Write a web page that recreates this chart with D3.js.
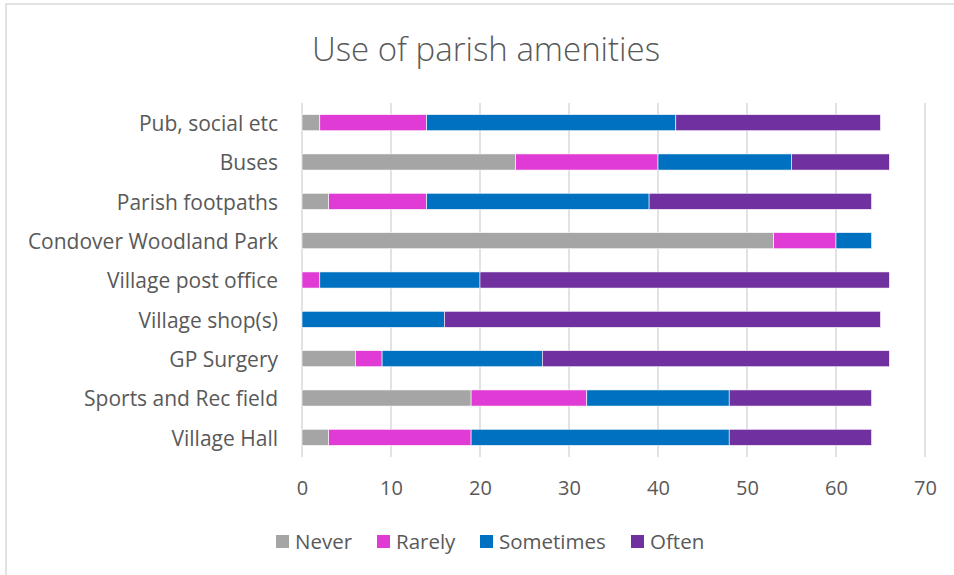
<!DOCTYPE html>
<meta charset="utf-8">
<html lang="en">
  <head>
    <style>
      body { margin: 0; background-color: #fff; }
      text { font-family: "Open Sans", "Noto Sans", sans-serif; fill: #595959; }
      .grid line { stroke: #d9d9d9; stroke-width: 1.5px; }
    </style>
  </head>
  <body>
    <script src="https://cdn.jsdelivr.net/npm/d3@7"></script>
    <svg id="chart"></svg>
    <script>

      var categories = ["Pub, social etc", "Buses", "Parish footpaths", "Condover Woodland Park",
        "Village post office", "Village shop(s)", "GP Surgery", "Sports and Rec field", "Village Hall"];
      var seriesNames = ["Never", "Rarely", "Sometimes", "Often"];
      var colors = ["#a5a5a5", "#e03cd5", "#0070c0", "#7030a0"];

      var never     = [2, 24, 3, 53, 0, 0, 6, 19, 3];
      var rarely    = [12, 16, 11, 7, 2, 0, 3, 13, 16];
      var sometimes = [28, 15, 25, 4, 18, 16, 18, 16, 29];
      var often     = [23, 11, 25, 0, 46, 49, 39, 16, 16];
      var xTicks = [0, 10, 20, 30, 40, 50, 60, 70];

      var width = 954, height = 575;
      var svg = d3.select("#chart").attr("width", width).attr("height", height);

      // chart border (only top/left visible in the crop)
      svg.append("rect")
        .attr("x", 6).attr("y", 4)
        .attr("width", 960).attr("height", 600)
        .attr("fill", "none")
        .attr("stroke", "#d9d9d9")
        .attr("stroke-width", 1.5);

      var table = categories.map(function(c, i) {
        return { cat: c, Never: never[i], Rarely: rarely[i], Sometimes: sometimes[i], Often: often[i] };
      });
      var stacked = d3.stack().keys(seriesNames)(table);

      var x = d3.scaleLinear().domain([0, 70]).range([302, 925]);
      var y = d3.scaleBand().domain(categories).range([103, 457]).paddingInner(0.59).paddingOuter(0.295);

      svg.append("text")
        .attr("x", 486).attr("y", 61)
        .attr("text-anchor", "middle")
        .style("font-size", "33px")
        .style("font-weight", 300)
        .text("Use of parish amenities");

      // gridlines
      svg.append("g").attr("class", "grid")
        .selectAll("line")
        .data(xTicks)
        .enter().append("line")
        .attr("x1", function(d) { return x(d); })
        .attr("x2", function(d) { return x(d); })
        .attr("y1", 103).attr("y2", 457);

      // bars
      svg.append("g").selectAll("g")
        .data(stacked)
        .enter().append("g")
        .attr("fill", function(d, i) { return colors[i]; })
        .selectAll("rect")
        .data(function(d) { return d; })
        .enter().append("rect")
        .attr("x", function(d) { return x(d[0]); })
        .attr("width", function(d) { return x(d[1]) - x(d[0]); })
        .attr("y", function(d) { return y(d.data.cat); })
        .attr("height", y.bandwidth())
        .attr("stroke", "#fff")
        .attr("stroke-width", 0.6);

      // y axis labels
      var yAxis = svg.append("g")
        .attr("transform", "translate(302,1.5)")
        .call(d3.axisLeft(y).tickSize(0).tickPadding(24));
      yAxis.select(".domain").remove();
      yAxis.selectAll("text").style("font-size", "21px").attr("fill", "#595959");

      // x axis labels
      var xAxis = svg.append("g")
        .attr("transform", "translate(0,474)")
        .call(d3.axisBottom(x).tickValues(xTicks).tickSize(0).tickPadding(7));
      xAxis.select(".domain").remove();
      xAxis.selectAll("text").style("font-size", "20px").attr("fill", "#595959");

      // legend
      var legendX = [276, 377, 480, 631];
      var legend = svg.append("g").selectAll("g")
        .data(seriesNames)
        .enter().append("g")
        .attr("transform", function(d, i) { return "translate(" + legendX[i] + ",535)"; });
      legend.append("rect")
        .attr("width", 13).attr("height", 13)
        .attr("fill", function(d, i) { return colors[i]; });
      legend.append("text")
        .attr("x", 19).attr("y", 14)
        .style("font-size", "20.5px")
        .text(function(d) { return d; });

    </script>
  </body>
</html>
